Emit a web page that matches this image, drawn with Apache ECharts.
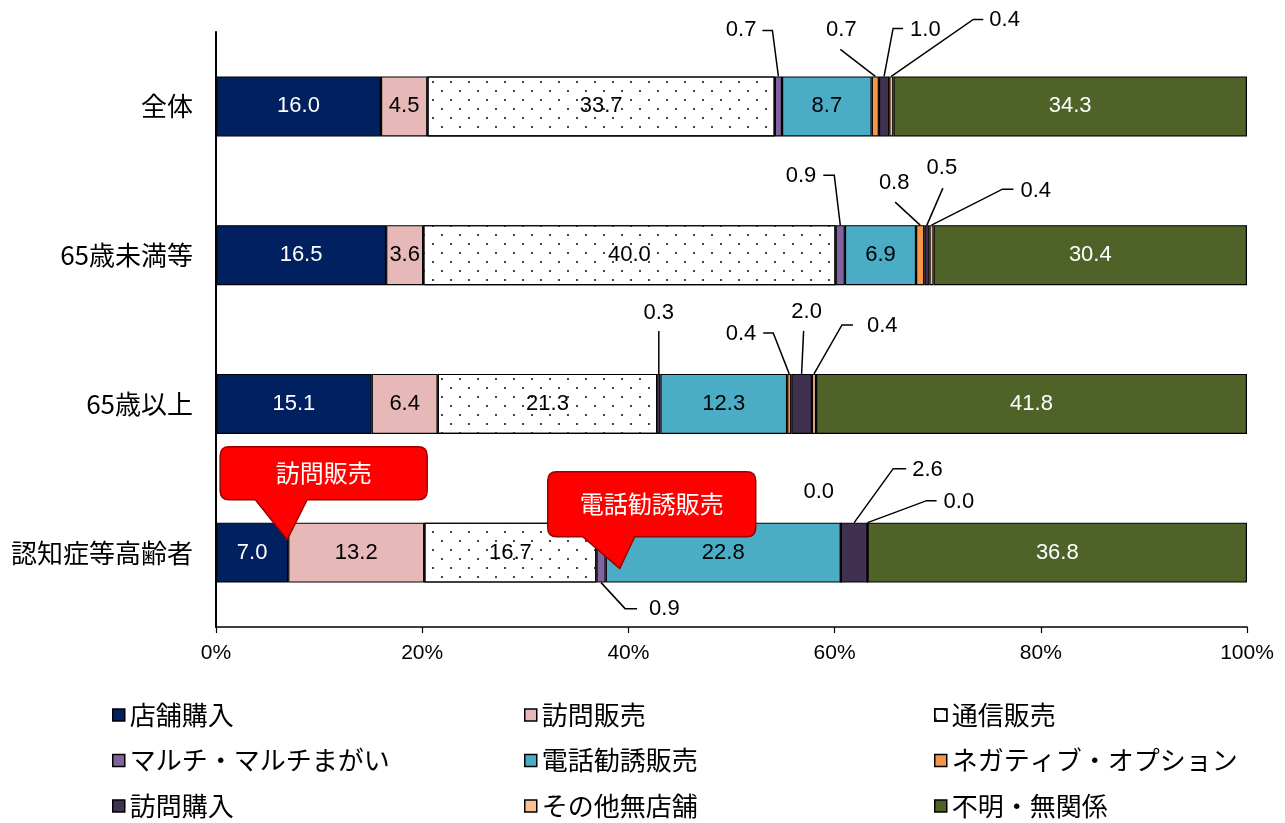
<!DOCTYPE html>
<html><head><meta charset="utf-8">
<script src="https://cdn.jsdelivr.net/npm/echarts@6/dist/echarts.min.js"></script>
<style>html,body{margin:0;padding:0;background:#fff}#chart{width:1285px;height:823px}</style>
</head><body><div id="chart"></div>
<script>
// ---------- data ----------
const categories = ['全体', '65歳未満等', '65歳以上', '認知症等高齢者'];
const seriesNames = ['店舗購入', '訪問販売', '通信販売', 'マルチ・マルチまがい', '電話勧誘販売',
  'ネガティブ・オプション', '訪問購入', 'その他無店舗', '不明・無関係'];
const storePurchase      = [16.0, 16.5, 15.1, 7.0];
const doorToDoorSales    = [4.5, 3.6, 6.4, 13.2];
const mailOrderSales     = [33.7, 40.0, 21.3, 16.7];
const multiLevel         = [0.7, 0.9, 0.3, 0.9];
const phoneSales         = [8.7, 6.9, 12.3, 22.8];
const negativeOption     = [0.7, 0.8, 0.4, 0.0];
const doorToDoorPurchase = [1.0, 0.5, 2.0, 2.6];
const otherNonStore      = [0.4, 0.4, 0.4, 0.0];
const unknownUnrelated   = [34.3, 30.4, 41.8, 36.8];
const seriesValues = [storePurchase, doorToDoorSales, mailOrderSales, multiLevel, phoneSales,
  negativeOption, doorToDoorPurchase, otherNonStore, unknownUnrelated];
const xTickStep = 20;

// ---------- styles / layout ----------
const colors = ['#002060', '#E6B9B8', '#FFFFFF', '#8064A2', '#4BACC6', '#F79646', '#403151', '#FAC090', '#4F6228'];
const insideLabel = [true, true, true, false, true, false, false, false, true];
const labelColors = ['#fff', '#000', '#000', '#000', '#000', '#000', '#000', '#000', '#fff'];
const BAR_W = 60;
const NUM_FONT = '"Liberation Sans", Arial, sans-serif';
const JP_FONT = '"Noto Sans CJK JP", sans-serif';

// leader-line label layout (pixel offsets from the segment's top/bottom centre)
const calloutLayout = [
  {c:0, s:3, ex:-6,  ey:-46, hx:-10, lx:-22, ly:-46, align:'right'},
  {c:0, s:5, ex:-35, ey:-27, hx:0,   lx:-34, ly:-46, align:'center'},
  {c:0, s:6, ex:9,   ey:-48, hx:10,  lx:26,  ly:-46, align:'left'},
  {c:0, s:7, ex:82,  ey:-57, hx:10,  lx:98,  ly:-56, align:'left'},
  {c:1, s:3, ex:-6,  ey:-50, hx:-11, lx:-24, ly:-49, align:'right'},
  {c:1, s:5, ex:-25, ey:-23, hx:0,   lx:-26, ly:-42, align:'center'},
  {c:1, s:6, ex:16,  ey:-37, hx:0,   lx:15,  ly:-57, align:'center'},
  {c:1, s:7, ex:71,  ey:-36, hx:11,  lx:89,  ly:-34, align:'left'},
  {c:2, s:3, ex:0,   ey:-43, hx:0,   lx:0,   ly:-61, align:'center'},
  {c:2, s:5, ex:-16, ey:-41, hx:-10, lx:-33, ly:-40, align:'right'},
  {c:2, s:6, ex:2,   ey:-43, hx:0,   lx:5,   ly:-62, align:'center'},
  {c:2, s:7, ex:28,  ey:-49, hx:11,  lx:53,  ly:-48, align:'left'},
  {c:3, s:3, ex:24,  ey:26,  hx:12,  lx:48,  ly:26,  align:'left', bottom:true},
  {c:3, s:5, noLine:true,            lx:-22, ly:-31, align:'center'},
  {c:3, s:6, ex:39,  ey:-54, hx:13,  lx:58,  ly:-53, align:'left'},
  {c:3, s:7, ex:59,  ey:-22, hx:10,  lx:76,  ly:-21, align:'left'}
];
// red speech bubbles (pixel offsets relative to tail tip)
const bubbleLayout = [
  {c:3, s:1, tipDx:-1, tipDy:-13, l:-67, r:140, t:-93, b:-40, bl:-32, br:20},
  {c:3, s:4, tipDx:14, tipDy:16,  l:-72, r:136, t:-97, b:-32, bl:-37, br:15}
];

function cumBefore(c, s) { let t = 0; for (let k = 0; k < s; k++) t += seriesValues[k][c]; return t; }

const barSeries = seriesNames.map((name, i) => ({
  name, type: 'bar', stack: 'total', barWidth: BAR_W,
  data: seriesValues[i],
  itemStyle: Object.assign({ color: colors[i], borderColor: '#000', borderWidth: 1.2 },
    i === 2 ? { decal: { symbol: 'rect', symbolSize: 1, color: '#444',
      dashArrayX: [[2, 16], [0, 9, 2, 7]], dashArrayY: [2, 7], rotation: 0 } } : {}),
  label: { show: insideLabel[i], position: 'inside', color: labelColors[i], fontSize: 22,
    fontFamily: NUM_FONT, formatter: p => p.value.toFixed(1) },
  emphasis: { disabled: true }
}));

const calloutSeries = {
  type: 'custom', name: 'callouts', silent: true, z: 5,
  encode: { x: 0, y: 1 },
  data: calloutLayout.map(o => [cumBefore(o.c, o.s) + seriesValues[o.s][o.c] / 2, o.c]),
  renderItem: (params, api) => {
    const o = calloutLayout[params.dataIndex];
    const v = seriesValues[o.s][o.c];
    const p = api.coord([api.value(0), api.value(1)]);
    const x0 = p[0];
    const y0 = o.bottom ? p[1] + BAR_W / 2 : p[1] - BAR_W / 2;
    const children = [];
    if (!o.noLine) {
      const pts = [[x0, y0], [x0 + o.ex, y0 + o.ey]];
      if (o.hx) pts.push([x0 + o.ex + o.hx, y0 + o.ey]);
      children.push({ type: 'polyline', shape: { points: pts },
        style: { stroke: '#000', lineWidth: 1.5, fill: null } });
    }
    children.push({ type: 'text', x: x0 + o.lx, y: y0 + o.ly,
      style: { text: v.toFixed(1), fill: '#000', font: '22px ' + NUM_FONT,
        align: o.align, verticalAlign: 'middle' } });
    return { type: 'group', children };
  }
};

const bubbleSeries = {
  type: 'custom', name: 'bubbles', silent: true, z: 6,
  encode: { x: 0, y: 1 },
  data: bubbleLayout.map(o => [cumBefore(o.c, o.s), o.c]),
  renderItem: (params, api) => {
    const o = bubbleLayout[params.dataIndex];
    const p = api.coord([api.value(0), api.value(1)]);
    const tx = p[0] + o.tipDx, ty = p[1] + o.tipDy;
    const L = tx + o.l, R = tx + o.r, T = ty + o.t, B = ty + o.b, r = 9;
    const d = `M${L + r},${T} L${R - r},${T} Q${R},${T} ${R},${T + r} L${R},${B - r} Q${R},${B} ${R - r},${B} ` +
      `L${tx + o.br},${B} L${tx},${ty} L${tx + o.bl},${B} L${L + r},${B} Q${L},${B} ${L},${B - r} ` +
      `L${L},${T + r} Q${L},${T} ${L + r},${T} Z`;
    return { type: 'group', children: [
      { type: 'path', shape: { pathData: d }, style: { fill: '#FF0000', stroke: '#9A0000', lineWidth: 1.5 } },
      { type: 'text', x: (L + R) / 2, y: (T + B) / 2,
        style: { text: seriesNames[o.s], fill: '#fff', font: '24px ' + JP_FONT, align: 'center', verticalAlign: 'middle' } }
    ] };
  }
};

const legendCols = [
  [seriesNames[0], seriesNames[3], seriesNames[6]],
  [seriesNames[1], seriesNames[4], seriesNames[7]],
  [seriesNames[2], seriesNames[5], seriesNames[8]]
];
const legendLeft = [112, 524, 934];

const chart = echarts.init(document.getElementById('chart'), null, { renderer: 'canvas' });
chart.setOption({
  animation: false,
  backgroundColor: '#fff',
  grid: { left: 216, right: 38, top: 32, bottom: 196, containLabel: false },
  xAxis: {
    type: 'value', min: 0, max: 100, interval: xTickStep,
    axisLine: { show: true, lineStyle: { color: '#000', width: 1.5 } },
    axisTick: { show: true, length: 6, lineStyle: { color: '#000', width: 1.2 } },
    splitLine: { show: false },
    axisLabel: { formatter: '{value}%', color: '#000', fontSize: 21, margin: 16,
      fontFamily: NUM_FONT }
  },
  yAxis: {
    type: 'category', data: categories, inverse: true,
    axisLine: { show: true, lineStyle: { color: '#000', width: 2 } },
    axisTick: { show: false },
    axisLabel: { color: '#000', fontSize: 26, margin: 23, fontFamily: JP_FONT }
  },
  legend: legendCols.map((names, i) => ({
    data: names, orient: 'vertical', left: legendLeft[i], top: 702, padding: 0, height: 120,
    itemWidth: 12, itemHeight: 12, itemGap: 19.5, icon: 'rect', selectedMode: false,
    itemStyle: { borderColor: '#000', borderWidth: 1.5 },
    textStyle: { color: '#000', fontSize: 26, lineHeight: 26, fontFamily: JP_FONT }
  })),
  series: [...barSeries, calloutSeries, bubbleSeries]
});
</script>
</body></html>
